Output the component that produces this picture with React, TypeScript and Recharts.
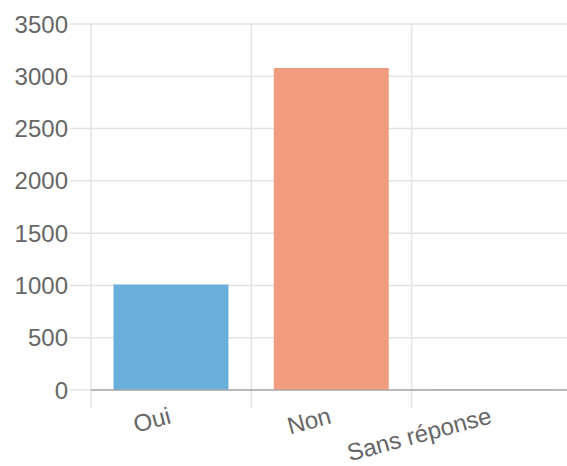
import React from 'react';
import { BarChart, Bar, XAxis, YAxis, CartesianGrid, Cell } from 'recharts';

const categories = ['Oui', 'Non', 'Sans réponse'];
const counts = [1010, 3080, 6];
const barColors = ['#6aafdc', '#f19b7f', '#9cc79c'];
const yTicks = [0, 500, 1000, 1500, 2000, 2500, 3000, 3500];

const data = categories.map((name, i) => ({ name, value: counts[i] }));

const FONT = '"Liberation Sans", Arial, sans-serif';

// rotated label, text ends at the category centre (chart.js style)
const SlantTick = (props: any) => {
  const { x, y, payload } = props;
  const ty = y + 25;
  return (
    <text
      x={x + 1}
      y={ty}
      transform={`rotate(-15, ${x + 1}, ${ty})`}
      textAnchor="end"
      fill="#666"
      fontSize={24}
      fontFamily={FONT}
    >
      {payload.value}
    </text>
  );
};

const App: React.FC = () => {
  return (
    <div style={{ position: 'absolute', left: 0, top: 0, width: 567, height: 466, overflow: 'hidden', background: '#fff' }}>
      <BarChart
        width={581}
        height={466}
        data={data}
        margin={{ top: 24, right: 9, bottom: 0, left: 0 }}
        barCategoryGap="14%"
      >
        <CartesianGrid
          x={70}
          y={24}
          width={520}
          height={384}
          stroke="#e3e3e3"
          strokeWidth={1.5}
          verticalCoordinatesGenerator={({ offset }: any) =>
            [0, 1, 2, 3].map((i) => offset.left + (i * offset.width) / 3)
          }
        />
        <XAxis
          dataKey="name"
          interval={0}
          height={76}
          tickLine={false}
          axisLine={{ stroke: '#a8a8a8', strokeWidth: 1.5 }}
          tick={<SlantTick />}
        />
        <YAxis
          width={91}
          domain={[0, 3500]}
          ticks={yTicks}
          interval={0}
          axisLine={false}
          tickLine={false}
          tickSize={20}
          tickMargin={3}
          tick={{ fill: '#666', fontSize: 24, fontFamily: FONT }}
        />
        <Bar dataKey="value" isAnimationActive={false}>
          {data.map((d, i) => (
            <Cell key={d.name} fill={barColors[i]} />
          ))}
        </Bar>
      </BarChart>
    </div>
  );
};

export default App;
